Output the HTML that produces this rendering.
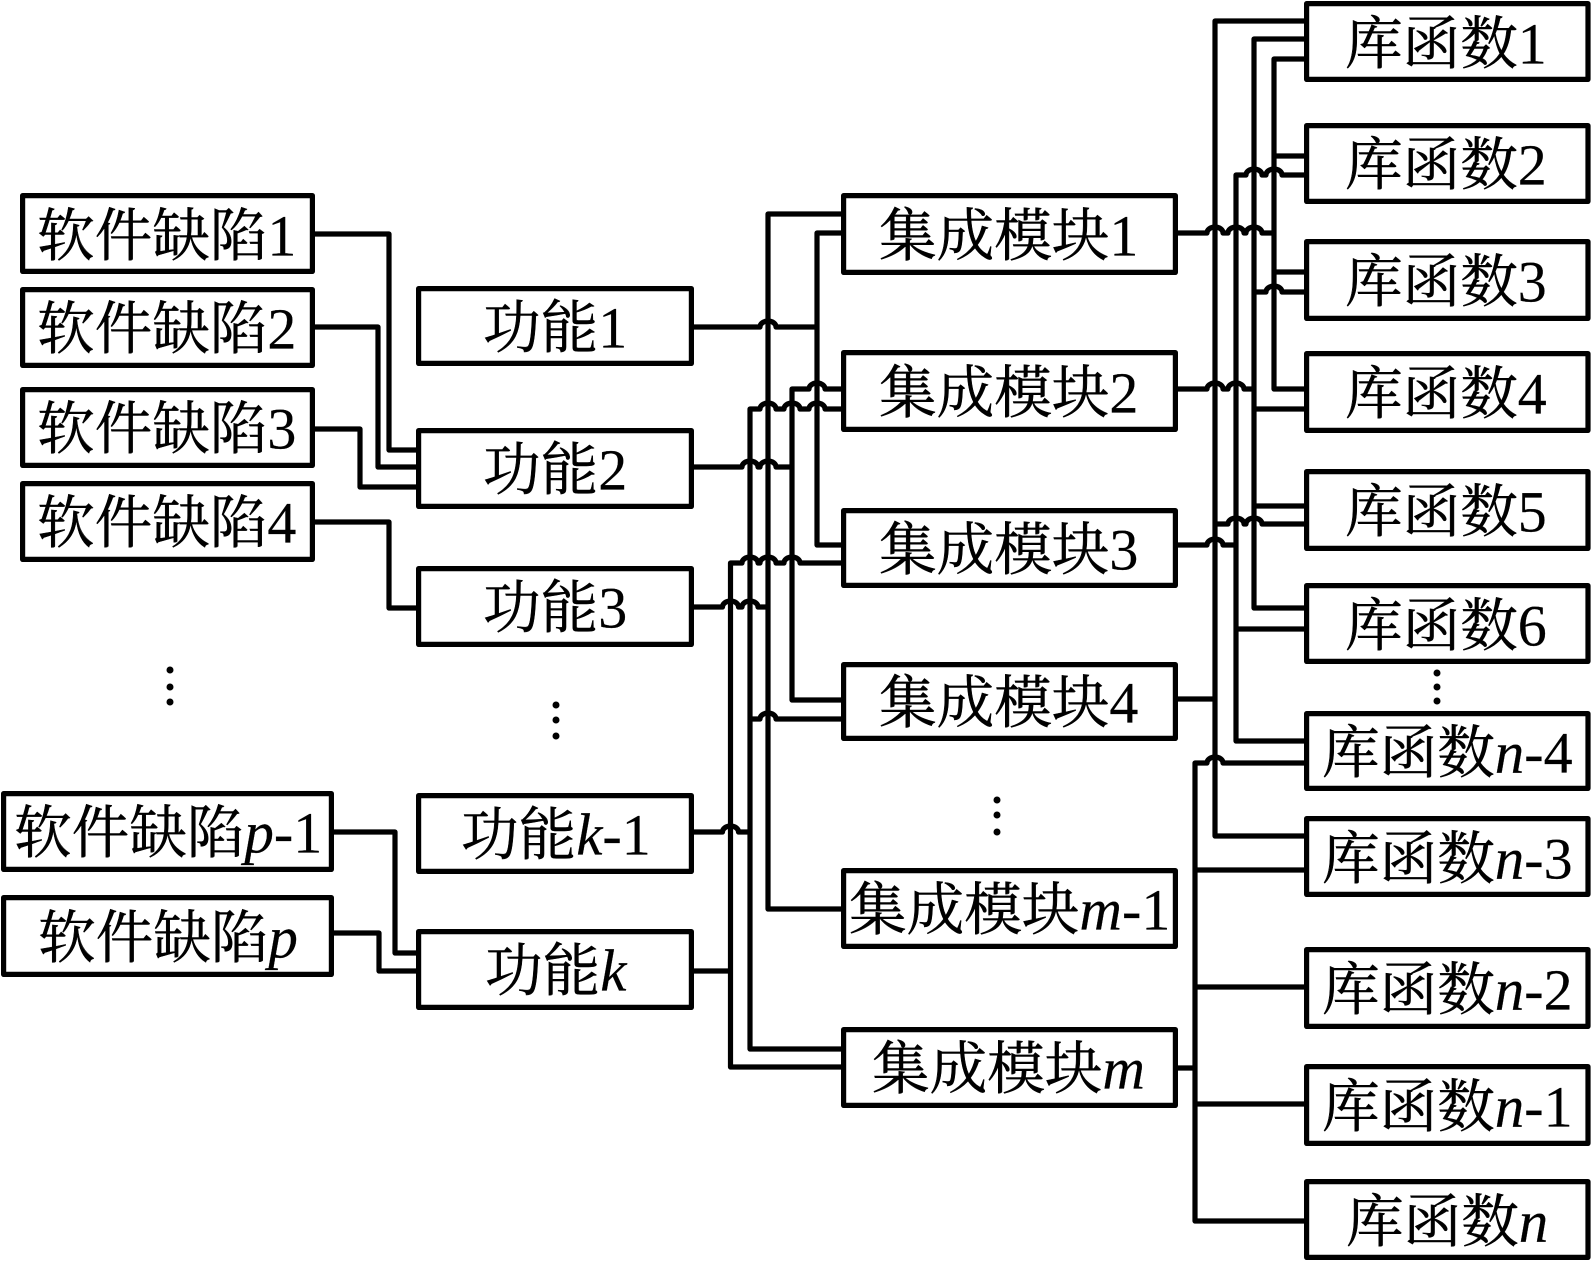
<!DOCTYPE html>
<html><head><meta charset="utf-8"><style>
html,body{margin:0;padding:0;background:#fff}
svg{display:block}
rect{fill:#fff;stroke:#000;stroke-width:5.2;stroke-linejoin:round}
path{fill:none;stroke:#000;stroke-width:5.2;stroke-linejoin:round}
circle{fill:#000}
text{font-family:"Liberation Serif","Noto Serif CJK SC",serif;font-size:57.6px;fill:#000;stroke:#000;stroke-width:.5}
.d{font-size:58px;stroke-width:.2}
.i{font-size:59px;font-style:italic;stroke-width:.2}
</style></head><body>
<svg width="1591" height="1261" viewBox="0 0 1591 1261" xmlns="http://www.w3.org/2000/svg">
<rect x="0" y="0" width="1591" height="1261" style="fill:#fff;stroke:none"/>
<path d="M315 234H389V450H416M315 327H378V467H416M315 429H360V487H416M315 522H389V608H416M334 832H395V953H416M334 933H379V971H416"/>
<path d="M843 214H768V909H843M843 233H817V545H843"/>
<path d="M694 327H760a8 6 0 0 1 16 0H817"/>
<path d="M843 700H792V389H809a8 6 0 0 1 16 0H843"/>
<path d="M843 1049H750V409H760a8 6 0 0 1 16 0H784a8 6 0 0 1 16 0H809a8 6 0 0 1 16 0H843"/>
<path d="M694 467H742a8 6 0 0 1 16 0H760a8 6 0 0 1 16 0H792"/>
<path d="M843 1067H730.500V563H742a8 6 0 0 1 16 0H760a8 6 0 0 1 16 0H784a8 6 0 0 1 16 0H843"/>
<path d="M694 607H722.500a8 6 0 0 1 16 0H742a8 6 0 0 1 16 0H768"/>
<path d="M750 719H760a8 6 0 0 1 16 0H843"/>
<path d="M694 832H722.500a8 6 0 0 1 16 0H750M694 971H730.500"/>
<path d="M1304 21H1215V836H1304M1304 39H1254V608H1304M1304 59H1274V389H1304M1274 156H1304M1274 272H1304"/>
<path d="M1304 741H1236V175H1246a8 6 0 0 1 16 0H1266a8 6 0 0 1 16 0H1304"/>
<path d="M1178 233H1207a8 6 0 0 1 16 0H1228a8 6 0 0 1 16 0H1246a8 6 0 0 1 16 0H1274"/>
<path d="M1254 292H1266a8 6 0 0 1 16 0H1304"/>
<path d="M1178 389H1207a8 6 0 0 1 16 0H1228a8 6 0 0 1 16 0H1254M1254 409H1304M1254 506H1304"/>
<path d="M1215 524H1228a8 6 0 0 1 16 0H1246a8 6 0 0 1 16 0H1304"/>
<path d="M1178 545H1207a8 6 0 0 1 16 0H1236M1236 629H1304M1178 699H1215"/>
<path d="M1304 1221H1195V763H1207a8 6 0 0 1 16 0H1304M1195 870H1304M1195 987H1304M1195 1104H1304M1178 1068H1195"/>

<rect x="22.600" y="195.600" width="289.800" height="75.800"/>
<rect x="22.600" y="289.600" width="289.800" height="75.800"/>
<rect x="22.600" y="389.600" width="289.800" height="75.800"/>
<rect x="22.600" y="483.600" width="289.800" height="75.800"/>
<rect x="3.600" y="793.600" width="327.800" height="75.800"/>
<rect x="3.600" y="897.600" width="327.800" height="76.800"/>

<rect x="418.600" y="288.600" width="272.800" height="74.800"/>
<rect x="418.600" y="430.600" width="272.800" height="75.800"/>
<rect x="418.600" y="568.600" width="272.800" height="75.800"/>
<rect x="418.600" y="795.600" width="272.800" height="75.800"/>
<rect x="418.600" y="931.600" width="272.800" height="75.800"/>

<rect x="843.600" y="195.600" width="331.800" height="76.800"/>
<rect x="843.600" y="352.600" width="331.800" height="76.800"/>
<rect x="843.600" y="510.600" width="331.800" height="74.800"/>
<rect x="843.600" y="664.600" width="331.800" height="73.800"/>
<rect x="843.600" y="870.600" width="331.800" height="75.800"/>
<rect x="843.600" y="1029.600" width="331.800" height="75.800"/>

<rect x="1306.600" y="3.600" width="281.400" height="75.800"/>
<rect x="1306.600" y="125.600" width="281.400" height="75.800"/>
<rect x="1306.600" y="241.600" width="281.400" height="76.800"/>
<rect x="1306.600" y="353.600" width="281.400" height="76.800"/>
<rect x="1306.600" y="471.600" width="281.400" height="76.800"/>
<rect x="1306.600" y="585.600" width="281.400" height="75.800"/>
<rect x="1306.600" y="713.600" width="281.400" height="74.800"/>
<rect x="1306.600" y="818.600" width="281.400" height="75.800"/>
<rect x="1306.600" y="949.600" width="281.400" height="76.800"/>
<rect x="1306.600" y="1066.600" width="281.400" height="76.800"/>
<rect x="1306.600" y="1181.600" width="281.400" height="75.800"/>

<g transform="translate(0,1.5)">
<text x="37" y="254">软件缺陷<tspan class="d">1</tspan></text>
<text x="37" y="347">软件缺陷<tspan class="d">2</tspan></text>
<text x="37" y="447">软件缺陷<tspan class="d">3</tspan></text>
<text x="37" y="541">软件缺陷<tspan class="d">4</tspan></text>
<text x="14" y="851">软件缺陷<tspan class="i">p</tspan><tspan class="d">-1</tspan></text>
<text x="38" y="956">软件缺陷<tspan class="i">p</tspan></text>

<text x="483" y="346">功能<tspan class="d">1</tspan></text>
<text x="483" y="488">功能<tspan class="d">2</tspan></text>
<text x="483" y="626">功能<tspan class="d">3</tspan></text>
<text x="461" y="853">功能<tspan class="i">k</tspan><tspan class="d">-1</tspan></text>
<text x="485" y="989">功能<tspan class="i">k</tspan></text>

<text x="879" y="254">集成模块<tspan class="d">1</tspan></text>
<text x="879" y="411">集成模块<tspan class="d">2</tspan></text>
<text x="879" y="568">集成模块<tspan class="d">3</tspan></text>
<text x="879" y="721">集成模块<tspan class="d">4</tspan></text>
<text x="849" y="928">集成模块<tspan class="i">m</tspan><tspan class="d">-1</tspan></text>
<text x="872" y="1087">集成模块<tspan class="i">m</tspan></text>

<text x="1345" y="62">库函数<tspan class="d">1</tspan></text>
<text x="1345" y="183">库函数<tspan class="d">2</tspan></text>
<text x="1345" y="300">库函数<tspan class="d">3</tspan></text>
<text x="1345" y="412">库函数<tspan class="d">4</tspan></text>
<text x="1345" y="530">库函数<tspan class="d">5</tspan></text>
<text x="1345" y="644">库函数<tspan class="d">6</tspan></text>
<text x="1322" y="771">库函数<tspan class="i">n</tspan><tspan class="d">-4</tspan></text>
<text x="1322" y="877">库函数<tspan class="i">n</tspan><tspan class="d">-3</tspan></text>
<text x="1322" y="1008">库函数<tspan class="i">n</tspan><tspan class="d">-2</tspan></text>
<text x="1322" y="1125">库函数<tspan class="i">n</tspan><tspan class="d">-1</tspan></text>
<text x="1346" y="1240">库函数<tspan class="i">n</tspan></text>
</g>

<circle cx="170" cy="670" r="3.500"/><circle cx="170" cy="687" r="3.500"/><circle cx="170" cy="702" r="3.500"/>
<circle cx="556" cy="705" r="3.500"/><circle cx="556" cy="720" r="3.500"/><circle cx="556" cy="736" r="3.500"/>
<circle cx="997" cy="800" r="3.500"/><circle cx="997" cy="815" r="3.500"/><circle cx="997" cy="832" r="3.500"/>
<circle cx="1437" cy="673" r="3.500"/><circle cx="1437" cy="687" r="3.500"/><circle cx="1437" cy="701" r="3.500"/>
</svg>
</body></html>
